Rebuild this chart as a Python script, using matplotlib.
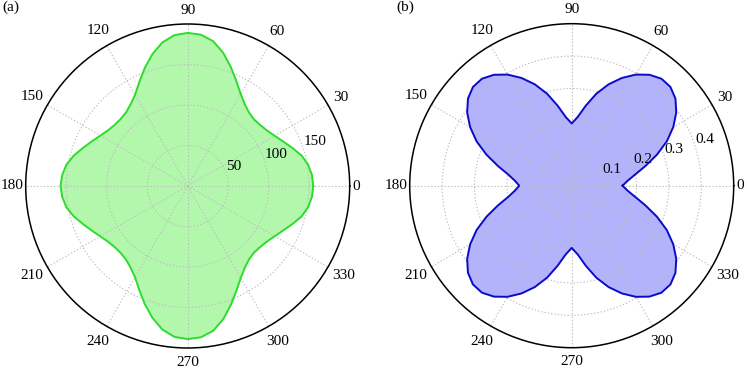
import numpy as np
import matplotlib
matplotlib.use("Agg")
import matplotlib.pyplot as plt

# ---------------- data ----------------
angles_deg = list(range(0, 360, 5))

# panel (a): radius at every 5 degrees, 0..355
r_a = [155, 154, 151, 145.5, 137.5, 130, 124, 119.5, 117, 116,
       118, 123, 131, 142.5, 156, 170, 181.5, 187.5, 189,
       187, 180, 168.5, 155, 141.5, 130, 123, 118.5, 117,
       117.5, 120, 124.5, 130.5, 137.5, 145.5, 152, 155.5,
       157,
       155.5, 152, 145.5, 137.5, 130.5, 124.5, 120, 117.5, 117,
       118.5, 123, 130, 141.5, 155, 168.5, 180, 187,
       189, 187.5, 181.5, 170, 156, 142.5, 131, 123, 118,
       116, 117, 119.5, 124, 130, 137.5, 145.5, 151, 154]

# panel (b): radius at every 5 degrees, 0..355
r_b = [0.157, 0.173, 0.199, 0.236, 0.280, 0.324, 0.362, 0.394, 0.418, 0.431,
       0.431, 0.418, 0.396, 0.367, 0.333, 0.294, 0.251, 0.213, 0.192,
       0.213, 0.251, 0.294, 0.333, 0.367, 0.396, 0.418, 0.431, 0.431,
       0.418, 0.394, 0.362, 0.324, 0.280, 0.236, 0.199, 0.176,
       0.162,
       0.176, 0.199, 0.236, 0.280, 0.324, 0.362, 0.394, 0.418, 0.431,
       0.431, 0.418, 0.396, 0.367, 0.333, 0.294, 0.251, 0.213,
       0.192, 0.213, 0.251, 0.294, 0.333, 0.367, 0.396, 0.418, 0.431,
       0.431, 0.418, 0.394, 0.362, 0.324, 0.280, 0.236, 0.199, 0.173]

theta_ticks = [0, 30, 60, 90, 120, 150, 180, 210, 240, 270, 300, 330]
theta_labels = ["0", "30", "60", "90", "120", "150", "180",
                "210", "240", "270", "300", "330"]

a_rticks = [50, 100, 150]
a_rlabels = ["50", "100", "150"]
a_rmax = 200

b_rticks = [0.1, 0.2, 0.3, 0.4]
b_rlabels = ["0.1", "0.2", "0.3", "0.4"]
b_rmax = 0.5

panel_labels = ["(a)", "(b)"]

# ---------------- styling ----------------
plt.rcParams["font.family"] = ["Liberation Serif", "DejaVu Serif"]
FS = 11
plt.rcParams["font.size"] = FS

W, H = 747, 370
DPI = 100
fig = plt.figure(figsize=(W / DPI, H / DPI), dpi=DPI)

R_PX = 162.0


def make_axes(cx, cy):
    return fig.add_axes([(cx - R_PX) / W, (H - cy - R_PX) / H,
                         2 * R_PX / W, 2 * R_PX / H], projection="polar")


def draw_panel(ax, r, rmax, rticks, rlabels, line_c, fill_c):
    th = np.deg2rad(angles_deg + [angles_deg[0]])
    rr = list(r) + [r[0]]
    ax.fill(th, rr, facecolor=fill_c, edgecolor="none", zorder=1)
    ax.plot(th, rr, color=line_c, lw=1.4, zorder=3, solid_joinstyle="round")
    ax.set_ylim(0, rmax)
    ax.set_thetagrids(theta_ticks, labels=[""] * len(theta_ticks))
    ax.set_rgrids(rticks, labels=rlabels, angle=18)
    ax.grid(True, color="#bdbdbd", linestyle=(0, (1.2, 1.8)), linewidth=0.8)
    ax.set_axisbelow(False)
    ax.spines["polar"].set_color("black")
    ax.spines["polar"].set_linewidth(1.1)
    ax.spines["polar"].set_zorder(4)
    ax.tick_params(axis="y", labelsize=FS, pad=0)
    for ang, lab in zip(theta_ticks, theta_labels):
        t = np.deg2rad(ang)
        # offset (px) approximating the label box extent beyond the rim
        off_px = 3.5 + 3.4 * len(lab) * abs(np.cos(t)) + 10.5 * abs(np.sin(t))
        off_pt = off_px * 72.0 / DPI
        ax.annotate(lab, xy=(t, rmax), xytext=(off_pt * np.cos(t), off_pt * np.sin(t)),
                    textcoords="offset points", ha="center", va="center",
                    fontsize=FS, annotation_clip=False)


ax_a = make_axes(187.7, 186.0)
draw_panel(ax_a, r_a, a_rmax, a_rticks, a_rlabels, "#2ddc2d", "#b3f7ad")

ax_b = make_axes(571.7, 185.7)
draw_panel(ax_b, r_b, b_rmax, b_rticks, b_rlabels, "#0a0ac8", "#b3b3fb")

fig.text(2 / W, 1 - 1 / H, panel_labels[0], ha="left", va="top", fontsize=FS)
fig.text(396 / W, 1 - 1 / H, panel_labels[1], ha="left", va="top", fontsize=FS)

fig.savefig("out.png", dpi=DPI)
